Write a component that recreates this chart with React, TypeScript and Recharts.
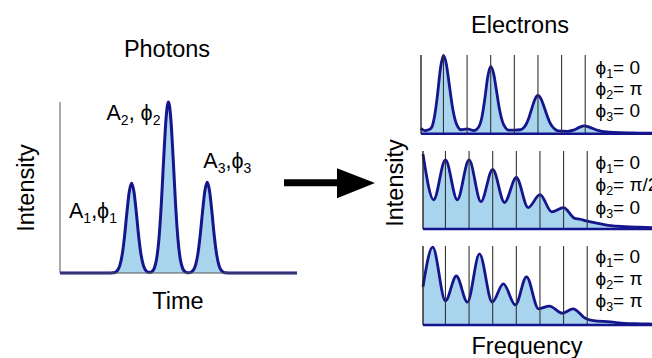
import React from 'react';
import { AreaChart, Area, XAxis, YAxis, ReferenceLine } from 'recharts';

const FONT = '"Liberation Sans", Arial, Helvetica, sans-serif';
const NAVY = '#15168c';
const FILL = '#a9d4ee';
const AXIS = '#333';

// ---- Photons (left): time vs intensity ----
const photonTime = [-0.374, 0.25, 0.30, 0.33, 0.36, 0.39, 0.42, 0.45, 0.48, 0.51, 0.54, 0.57, 0.60, 0.63, 0.66, 0.69, 0.72, 0.75, 0.78, 0.80, 0.83, 0.86, 0.89, 0.92, 0.95, 0.98, 1.01, 1.04, 1.07, 1.10, 1.13, 1.16, 1.19, 1.22, 1.25, 1.265, 1.295, 1.325, 1.355, 1.385, 1.415, 1.445, 1.475, 1.505, 1.535, 1.565, 1.595, 1.625, 1.655, 1.685, 1.715, 1.745, 1.80, 2.651];
const photonIntensity = [0, 0, 0.002, 0.008, 0.030, 0.089, 0.216, 0.432, 0.708, 0.951, 1.05, 0.951, 0.708, 0.432, 0.216, 0.089, 0.030, 0.009, 0.008, 0.017, 0.057, 0.169, 0.412, 0.822, 1.348, 1.812, 2.0, 1.812, 1.348, 0.822, 0.412, 0.169, 0.057, 0.016, 0.004, 0.004, 0.008, 0.030, 0.090, 0.218, 0.436, 0.714, 0.960, 1.06, 0.960, 0.714, 0.436, 0.218, 0.090, 0.030, 0.008, 0.002, 0, 0];
const timeTicks = [0, 1, 2];
const intensityTicks = [1, 2];

// ---- Electrons (right): frequency vs intensity, three phase sets ----
const freqTicks = [1, 2, 3, 4, 5, 6, 7, 8, 9];
const gridFreqs = [1, 2, 3, 4, 5, 6, 7];

const spec1Freq = [0.05, 0.2, 0.375, 0.5, 0.625, 0.75, 0.875, 1.0, 1.125, 1.25, 1.375, 1.5, 1.625, 1.75, 2.0, 2.3, 2.5, 2.625, 2.75, 2.875, 3.0, 3.125, 3.25, 3.375, 3.5, 3.625, 3.75, 4.0, 4.25, 4.375, 4.5, 4.625, 4.75, 4.875, 5.0, 5.125, 5.25, 5.375, 5.5, 5.625, 5.75, 5.875, 6.25, 6.5, 6.75, 6.95, 7.2, 7.45, 7.7, 8.0, 8.5, 9.0, 10];
const spec1Int = [0.14, 0.08, 0.10, 0.16, 0.45, 1.0, 1.67, 1.99, 1.76, 1.23, 0.70, 0.34, 0.16, 0.10, 0.12, 0.08, 0.18, 0.41, 0.88, 1.45, 1.71, 1.52, 1.07, 0.61, 0.30, 0.15, 0.09, 0.09, 0.10, 0.14, 0.24, 0.42, 0.66, 0.88, 0.97, 0.89, 0.70, 0.48, 0.29, 0.17, 0.10, 0.07, 0.06, 0.09, 0.16, 0.20, 0.16, 0.10, 0.06, 0.04, 0.025, 0.02, 0.01];

const spec2Freq = [0.05, 0.5, 1.0, 1.5, 2.0, 2.5, 3.0, 3.5, 4.0, 4.5, 5.0, 5.5, 6.0, 6.45, 6.7, 6.95, 7.4, 8.0, 8.6, 9.2, 10];
const spec2Int = [1.92, 0.75, 1.77, 0.75, 1.77, 0.70, 1.53, 0.68, 1.32, 0.55, 0.88, 0.44, 0.55, 0.28, 0.25, 0.21, 0.15, 0.085, 0.06, 0.045, 0.03];

const spec3Freq = [0.05, 0.46, 1.0, 1.46, 1.93, 2.44, 2.98, 3.45, 3.96, 4.43, 4.94, 5.40, 5.95, 6.40, 6.92, 7.26, 7.98, 8.58, 9.26, 10];
const spec3Int = [0.97, 1.97, 0.61, 1.24, 0.58, 1.80, 0.58, 1.04, 0.51, 1.22, 0.41, 0.48, 0.30, 0.41, 0.17, 0.11, 0.08, 0.04, 0.03, 0.02];

const phaseSet1 = ['0', 'π', '0'];
const phaseSet2 = ['0', 'π/2', '0'];
const phaseSet3 = ['0', 'π', 'π'];

const pulseLabels = [
  { idx: '1', sep: ',' },
  { idx: '2', sep: ', ' },
  { idx: '3', sep: ',' },
];

type Geo = { left: number; top: number; w: number; h: number };
const M = 10;

function Spectrum({ xs, ys, geo }: { xs: number[]; ys: number[]; geo: Geo }) {
  const data = xs.map((f, i) => ({ f, v: ys[i] }));
  return (
    <div style={{ position: 'absolute', left: geo.left - M, top: geo.top - M }}>
      <AreaChart width={geo.w + 2 * M} height={geo.h + 2 * M} data={data} margin={{ top: M, right: M, bottom: M, left: M }}>
        <XAxis type="number" dataKey="f" domain={[0.05, 10]} ticks={freqTicks} mirror tick={false} tickSize={4}
          tickLine={{ stroke: AXIS }} axisLine={{ stroke: NAVY, strokeWidth: 2.5 }} />
        <YAxis type="number" domain={[0, 2]} ticks={intensityTicks} mirror tick={false} tickSize={4}
          tickLine={{ stroke: '#222' }} axisLine={{ stroke: '#222', strokeWidth: 1.4 }} />
        <Area type="monotone" dataKey="v" stroke="none" fill={FILL} fillOpacity={1} isAnimationActive={false} dot={false} activeDot={false} />
        {gridFreqs.map((g) => (
          <ReferenceLine key={g} x={g} stroke={AXIS} strokeWidth={1.1} />
        ))}
        <Area type="monotone" dataKey="v" stroke={NAVY} strokeWidth={2.8} fill="none" isAnimationActive={false} dot={false} activeDot={false} />
      </AreaChart>
    </div>
  );
}

function PhaseLabels({ vals, baselines }: { vals: string[]; baselines: number[] }) {
  return (
    <>
      {vals.map((v, i) => (
        <text key={i} x={595.5} y={baselines[i]} fontSize={19} fill="#000">
          ϕ<tspan fontSize={12.5} dy={4}>{String(i + 1)}</tspan>
          <tspan dy={-4}>{'= ' + v}</tspan>
        </text>
      ))}
    </>
  );
}

export default function App() {
  const photonData = photonTime.map((t, i) => ({ t, v: photonIntensity[i] }));
  const L: Geo = { left: 60, top: 102.3, w: 237, h: 171 };
  const pulsePos = [
    { x: 69, y: 218.3 },
    { x: 106.5, y: 120 },
    { x: 203.3, y: 168.3 },
  ];
  return (
    <div style={{ position: 'absolute', left: 0, top: 0, width: 652, height: 358, overflow: 'hidden', background: '#fff', fontFamily: FONT }}>
      <div style={{ position: 'absolute', left: L.left - M, top: L.top - M }}>
        <AreaChart width={L.w + 2 * M} height={L.h + 2 * M} data={photonData} margin={{ top: M, right: M, bottom: M, left: M }}>
          <XAxis type="number" dataKey="t" domain={[-0.374, 2.651]} ticks={timeTicks} mirror tick={false} tickSize={4}
            tickLine={{ stroke: '#555' }} axisLine={{ stroke: '#555' }} />
          <YAxis type="number" domain={[0, 2]} ticks={intensityTicks} mirror tick={false} tickSize={4}
            tickLine={{ stroke: '#555' }} axisLine={{ stroke: '#555' }} />
          <Area type="monotone" dataKey="v" stroke={NAVY} strokeWidth={3} fill={FILL} fillOpacity={1} isAnimationActive={false} dot={false} activeDot={false} />
        </AreaChart>
      </div>

      <Spectrum xs={spec1Freq} ys={spec1Int} geo={{ left: 421, top: 55.3, w: 235.1, h: 78.7 }} />
      <Spectrum xs={spec2Freq} ys={spec2Int} geo={{ left: 422.6, top: 151, w: 235.1, h: 78 }} />
      <Spectrum xs={spec3Freq} ys={spec3Int} geo={{ left: 422.6, top: 246, w: 235.1, h: 79 }} />

      <svg width={652} height={358} style={{ position: 'absolute', left: 0, top: 0, pointerEvents: 'none' }} fontFamily={FONT}>
        <text x={167} y={57} fontSize={23.5} textAnchor="middle" fill="#000">Photons</text>
        <text x={178} y={309} fontSize={23.5} textAnchor="middle" fill="#000">Time</text>
        <text transform="translate(34.3,188) rotate(-90)" fontSize={23.5} textAnchor="middle" fill="#000">Intensity</text>
        <text x={520} y={32.7} fontSize={23.5} textAnchor="middle" fill="#000">Electrons</text>
        <text x={527} y={354} fontSize={23.5} textAnchor="middle" fill="#000">Frequency</text>
        <text transform="translate(403.3,183) rotate(-90)" fontSize={23.5} textAnchor="middle" fill="#000">Intensity</text>

        <path d="M284,179.3 L337,179.3 L337,168.3 L375,183 L337,198.3 L337,186.3 L284,186.3 Z" fill="#000" />

        {pulseLabels.map((p, i) => (
          <text key={i} x={pulsePos[i].x} y={pulsePos[i].y} fontSize={21.5} fill="#000">
            A<tspan fontSize={14} dy={5}>{p.idx}</tspan>
            <tspan dy={-5}>{p.sep + 'ϕ'}</tspan>
            <tspan fontSize={14} dy={5}>{p.idx}</tspan>
          </text>
        ))}

        <PhaseLabels vals={phaseSet1} baselines={[74, 95.3, 116.7]} />
        <PhaseLabels vals={phaseSet2} baselines={[168.5, 191, 214]} />
        <PhaseLabels vals={phaseSet3} baselines={[263.3, 285, 306.7]} />
      </svg>
    </div>
  );
}
